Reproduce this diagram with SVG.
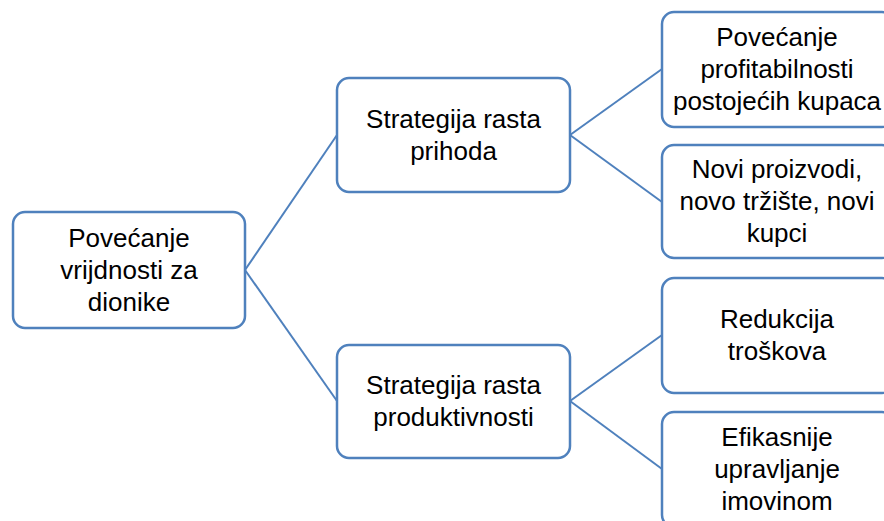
<svg xmlns="http://www.w3.org/2000/svg" width="884" height="521" viewBox="0 0 884 521">
<style>
.box{fill:#ffffff;stroke:#4f81bd;stroke-width:2.5}
.lbl{font-family:"Liberation Sans",Arial,sans-serif;font-size:26px;fill:#000;text-anchor:middle}
.con{stroke:#4f81bd;stroke-width:2;fill:none}
</style>
<rect width="884" height="521" fill="#ffffff"/>
<g id="connectors">
<line class="con" x1="245" y1="270" x2="337" y2="135"/>
<line class="con" x1="245" y1="270" x2="337" y2="401"/>
<line class="con" x1="570" y1="135" x2="662" y2="69"/>
<line class="con" x1="570" y1="135" x2="662" y2="202"/>
<line class="con" x1="570" y1="401" x2="662" y2="335"/>
<line class="con" x1="570" y1="401" x2="662" y2="469"/>
</g>
<g id="root">
<rect class="box" x="13" y="212" width="232" height="116" rx="12"/>
<text class="lbl" x="129" y="247">Povećanje</text>
<text class="lbl" x="129" y="279">vrijdnosti za</text>
<text class="lbl" x="129" y="311">dionike</text>
</g>
<g id="prihoda">
<rect class="box" x="337" y="78" width="233" height="114" rx="12"/>
<text class="lbl" x="453.5" y="128">Strategija rasta</text>
<text class="lbl" x="453.5" y="160">prihoda</text>
</g>
<g id="produktivnosti">
<rect class="box" x="337" y="345" width="233" height="113" rx="12"/>
<text class="lbl" x="453.5" y="394">Strategija rasta</text>
<text class="lbl" x="453.5" y="426">produktivnosti</text>
</g>
<g id="profitabilnost">
<rect class="box" x="662" y="12" width="232" height="115" rx="12"/>
<text class="lbl" x="777" y="46">Povećanje</text>
<text class="lbl" x="777" y="78">profitabilnosti</text>
<text class="lbl" x="777" y="110">postojećih kupaca</text>
</g>
<g id="novi">
<rect class="box" x="662" y="145" width="232" height="113" rx="12"/>
<text class="lbl" x="777" y="178">Novi proizvodi,</text>
<text class="lbl" x="777" y="210">novo tržište, novi</text>
<text class="lbl" x="777" y="242">kupci</text>
</g>
<g id="redukcija">
<rect class="box" x="662" y="278" width="232" height="115" rx="12"/>
<text class="lbl" x="777" y="328">Redukcija</text>
<text class="lbl" x="777" y="360">troškova</text>
</g>
<g id="efikasnije">
<rect class="box" x="662" y="412" width="232" height="115" rx="12"/>
<text class="lbl" x="777" y="446">Efikasnije</text>
<text class="lbl" x="777" y="478">upravljanje</text>
<text class="lbl" x="777" y="510">imovinom</text>
</g>
</svg>
